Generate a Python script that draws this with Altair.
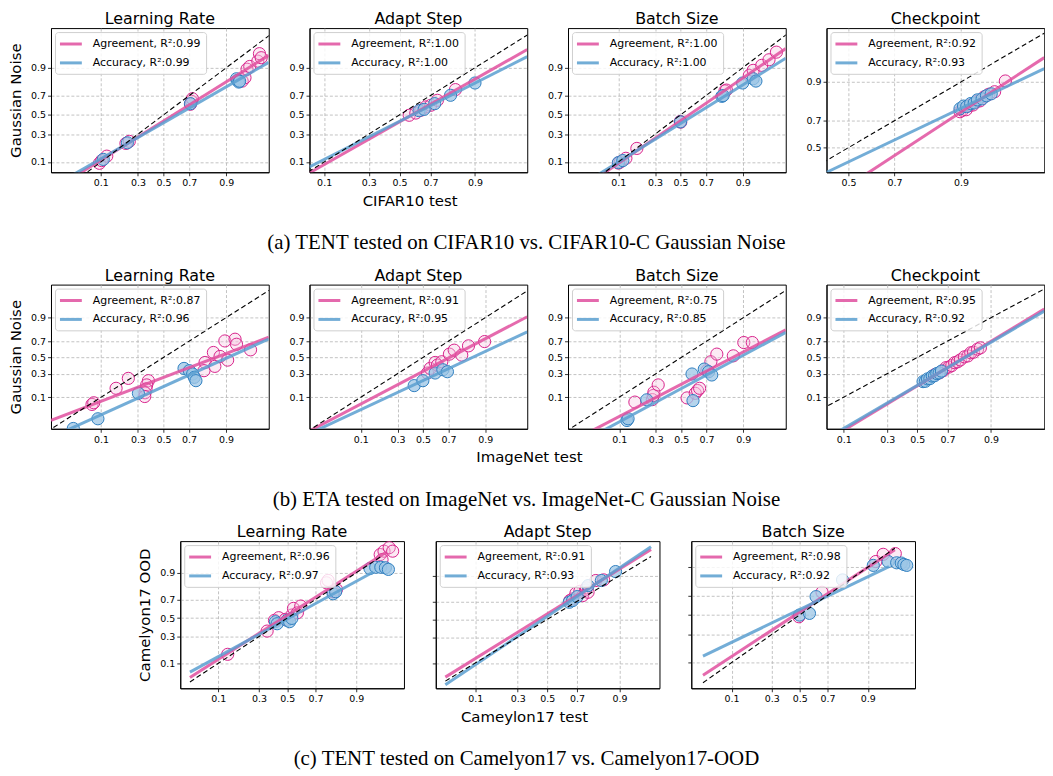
import altair as alt
import pandas as pd
from statistics import NormalDist

_nd = NormalDist()


def probit(p):
    return _nd.inv_cdf(p)


FONT = "DejaVu Sans"
SERIF = "Liberation Serif"
PINK = "#e0509f"
BLUE = "#5a9fd0"
PINK_EDGE = "#d8248c"
BLUE_EDGE = "#2f7fbf"
BLUE_FILL = "#9cc6e5"
PINK_FILL = "#f5c4df"

TICK_PROBS = [0.1, 0.3, 0.5, 0.7, 0.9]
LEXPR = ("datum.value < -0.9 ? '0.1' : datum.value < -0.26 ? '0.3' : "
         "datum.value < 0.26 ? '0.5' : datum.value < 0.9 ? '0.7' : '0.9'")

# ---------------- (a) TENT on CIFAR10 ----------------
A_TITLES = ["Learning Rate", "Adapt Step", "Batch Size", "Checkpoint"]
A_R2 = [("0.99", "0.99"), ("1.00", "1.00"), ("1.00", "1.00"), ("0.92", "0.93")]

A1_AGR_X = [0.095, 0.103, 0.123, 0.221, 0.242, 0.709, 0.716, 0.722, 0.946, 0.952, 0.956, 0.961, 0.973, 0.975, 0.977]
A1_AGR_Y = [0.094, 0.107, 0.131, 0.219, 0.236, 0.614, 0.644, 0.670, 0.821, 0.844, 0.893, 0.906, 0.928, 0.952, 0.940]
A1_ACC_X = [0.109, 0.230, 0.709, 0.932, 0.935, 0.938, 0.940]
A1_ACC_Y = [0.113, 0.224, 0.620, 0.837, 0.826, 0.814, 0.820]

A2_AGR_X = [0.565, 0.609, 0.641, 0.672, 0.702, 0.740, 0.829]
A2_AGR_Y = [0.496, 0.520, 0.550, 0.586, 0.603, 0.654, 0.754]
A2_ACC_X = [0.630, 0.662, 0.725, 0.807, 0.900]
A2_ACC_Y = [0.545, 0.560, 0.620, 0.703, 0.807]

A3_AGR_X = [0.100, 0.107, 0.130, 0.184, 0.498, 0.502, 0.820, 0.828, 0.922, 0.933, 0.953, 0.966, 0.976]
A3_AGR_Y = [0.095, 0.100, 0.119, 0.181, 0.428, 0.422, 0.742, 0.750, 0.858, 0.887, 0.911, 0.933, 0.956]
A3_ACC_X = [0.100, 0.117, 0.500, 0.803, 0.810, 0.900, 0.933, 0.940]
A3_ACC_Y = [0.097, 0.107, 0.425, 0.693, 0.700, 0.807, 0.837, 0.821]

A4_AGR_X = [0.898, 0.903, 0.910, 0.916, 0.922, 0.928, 0.933, 0.939, 0.945, 0.952, 0.963]
A4_AGR_Y = [0.758, 0.767, 0.770, 0.794, 0.797, 0.816, 0.819, 0.839, 0.851, 0.862, 0.903]
A4_ACC_X = [0.898, 0.905, 0.911, 0.918, 0.924, 0.929, 0.936, 0.942, 0.948]
A4_ACC_Y = [0.776, 0.791, 0.788, 0.805, 0.808, 0.824, 0.829, 0.844, 0.853]

# ---------------- (b) ETA on ImageNet ----------------
B_TITLES = ["Learning Rate", "Adapt Step", "Batch Size", "Checkpoint"]
B_R2 = [("0.87", "0.96"), ("0.91", "0.95"), ("0.75", "0.85"), ("0.95", "0.92")]

B1_AGR_X = [0.071, 0.076, 0.165, 0.235, 0.378, 0.365, 0.360, 0.352, 0.350, 0.803, 0.797, 0.854, 0.847, 0.877, 0.896, 0.906, 0.929, 0.933, 0.963]
B1_AGR_Y = [0.065, 0.072, 0.160, 0.250, 0.227, 0.188, 0.155, 0.127, 0.104, 0.436, 0.335, 0.387, 0.564, 0.513, 0.703, 0.466, 0.722, 0.665, 0.597]
B1_ACC_X = [0.032, 0.089, 0.303, 0.663, 0.702, 0.725, 0.736, 0.747]
B1_ACC_Y = [0.011, 0.024, 0.124, 0.362, 0.335, 0.297, 0.261, 0.227]

B2_AGR_X = [0.537, 0.559, 0.599, 0.617, 0.651, 0.707, 0.740, 0.788, 0.826, 0.898]
B2_AGR_Y = [0.308, 0.362, 0.436, 0.403, 0.445, 0.543, 0.593, 0.530, 0.646, 0.696]
B2_ACC_X = [0.428, 0.499, 0.599, 0.659, 0.693]
B2_ACC_Y = [0.182, 0.227, 0.308, 0.346, 0.323]

B3_AGR_X = [0.169, 0.275, 0.282, 0.286, 0.317, 0.548, 0.614, 0.632, 0.648, 0.702, 0.730, 0.769, 0.859, 0.902, 0.929]
B3_AGR_Y = [0.075, 0.087, 0.110, 0.131, 0.188, 0.096, 0.124, 0.143, 0.160, 0.335, 0.445, 0.543, 0.521, 0.685, 0.685]
B3_ACC_X = [0.131, 0.136, 0.238, 0.588, 0.596, 0.683, 0.714, 0.736]
B3_ACC_Y = [0.021, 0.024, 0.086, 0.297, 0.082, 0.354, 0.323, 0.286]

B4_AGR_X = [0.620, 0.650, 0.674, 0.691, 0.709, 0.726, 0.742, 0.758, 0.773, 0.794, 0.811, 0.824, 0.836, 0.853, 0.864]
B4_AGR_Y = [0.290, 0.310, 0.334, 0.371, 0.378, 0.397, 0.433, 0.444, 0.468, 0.508, 0.520, 0.560, 0.567, 0.606, 0.622]
B4_ACC_X = [0.540, 0.556, 0.571, 0.587, 0.603, 0.618, 0.633, 0.648, 0.663]
B4_ACC_Y = [0.218, 0.221, 0.245, 0.248, 0.274, 0.278, 0.302, 0.309, 0.330]

# ---------------- (c) TENT on Camelyon17 ----------------
C_TITLES = ["Learning Rate", "Adapt Step", "Batch Size"]
C_R2 = [("0.96", "0.97"), ("0.91", "0.93"), ("0.98", "0.92")]

C1_AGR_X = [0.134, 0.354, 0.406, 0.437, 0.485, 0.534, 0.546, 0.575, 0.599, 0.767, 0.776, 0.803, 0.820, 0.958, 0.964, 0.971, 0.975, 0.961]
C1_AGR_Y = [0.152, 0.356, 0.474, 0.504, 0.485, 0.534, 0.608, 0.560, 0.633, 0.841, 0.857, 0.772, 0.791, 0.964, 0.971, 0.977, 0.971, 0.951]
C1_ACC_X = [0.413, 0.425, 0.498, 0.517, 0.534, 0.803, 0.816, 0.938, 0.950, 0.959, 0.966, 0.970]
C1_ACC_Y = [0.459, 0.436, 0.474, 0.459, 0.496, 0.754, 0.772, 0.920, 0.925, 0.925, 0.923, 0.916]

C2_AGR_X = [0.655, 0.673, 0.694, 0.718, 0.734, 0.752, 0.756, 0.765, 0.805, 0.841]
C2_AGR_Y = [0.708, 0.725, 0.777, 0.794, 0.756, 0.805, 0.821, 0.786, 0.872, 0.876]
C2_ACC_X = [0.651, 0.673, 0.702, 0.765, 0.831, 0.887]
C2_ACC_Y = [0.691, 0.708, 0.747, 0.838, 0.872, 0.919]

C3_AGR_X = [0.494, 0.663, 0.924, 0.942, 0.964]
C3_AGR_Y = [0.480, 0.728, 0.924, 0.948, 0.950]
C3_ACC_X = [0.499, 0.573, 0.621, 0.790, 0.917, 0.952, 0.966, 0.972, 0.975, 0.978]
C3_ACC_Y = [0.498, 0.516, 0.688, 0.826, 0.908, 0.924, 0.919, 0.918, 0.912, 0.908]

# axis limits of each panel, in probit units
A_XDOM = [(-2.30, 2.15), (-1.53, 2.17), (-2.32, 2.17), (-0.25, 2.23)]
A_YDOM = [(-1.56, 2.36), (-1.56, 2.36), (-1.56, 2.36), (-0.48, 2.33)]
B_XDOM = [(-2.31, 2.16), (-2.34, 2.15), (-2.34, 2.16), (-1.58, 2.21)]
B_YDOM = [(-2.30, 2.35)] * 4
C_XDOM = [(-1.99, 2.17), (-1.98, 1.99), (-2.04, 2.17)]
C_YDOM = [(-1.99, 2.18), (-2.02, 2.29), (-1.97, 1.98)]
# x-extent of the fitted lines / y=x line in (c): (agreement, accuracy, diagonal)
C_EXT = [((-1.81, 1.83), (-1.81, 1.60), (-1.81, 1.77)),
         ((-1.81, 1.84), (-1.81, 1.84), (-1.81, 1.84)),
         ((-1.82, 1.79), (-1.82, 1.68), (-1.82, 1.79))]


def panel(name, agr_x, agr_y, acc_x, acc_y, r2, xdom, ydom, w, h,
          ytitle=None, ylabels=True, ext=None):
    la = f"Agreement, R\u00b2:{r2[0]}"
    lb = f"Accuracy, R\u00b2:{r2[1]}"
    pts = pd.DataFrame({
        "x": [probit(v) for v in agr_x + acc_x],
        "y": [probit(v) for v in agr_y + acc_y],
        "label": [la] * len(agr_x) + [lb] * len(acc_x),
    })
    xv = [probit(t) for t in TICK_PROBS if xdom[0] < probit(t) < xdom[1]]
    yv = [probit(t) for t in TICK_PROBS if ydom[0] < probit(t) < ydom[1]]
    X = alt.X("x:Q", scale=alt.Scale(domain=list(xdom), nice=False, zero=False),
              axis=alt.Axis(values=xv, labelExpr=LEXPR, title=None))
    yaxis = dict(values=yv, labelExpr=LEXPR, labels=ylabels)
    yaxis["title"] = ytitle if ytitle else None
    Y = alt.Y("y:Q", scale=alt.Scale(domain=list(ydom), nice=False, zero=False),
              axis=alt.Axis(**yaxis))
    legend = alt.Legend(orient="top-left", title=None, offset=4, padding=5,
                        fillColor="rgba(255,255,255,0.82)", strokeColor="#cfcfcf",
                        cornerRadius=3, symbolType="M-2,0L2,0", symbolStrokeWidth=3,
                        symbolSize=121, symbolOffset=4, symbolOpacity=0.85,
                        labelFont=FONT, labelFontSize=11, labelColor="black",
                        labelLimit=400, labelOffset=15, rowPadding=6)
    color = alt.Color("label:N", scale=alt.Scale(domain=[la, lb], range=[PINK, BLUE]),
                      legend=legend)
    if ext is None:
        ext = (xdom, xdom, (-3.5, 3.5))
    base = alt.Chart(pts)
    agr_pts = base.transform_filter(alt.datum.label == la).mark_circle(
        size=150, fill=PINK_FILL, fillOpacity=0.35, stroke=PINK_EDGE,
        strokeWidth=1, opacity=1, clip=True).encode(x=X, y=Y)
    acc_pts = base.transform_filter(alt.datum.label == lb).mark_circle(
        size=150, fill=BLUE_FILL, fillOpacity=0.75, stroke=BLUE_EDGE,
        strokeWidth=1, opacity=1, clip=True).encode(x=X, y=Y)
    agr_line = base.transform_filter(alt.datum.label == la).transform_regression(
        "x", "y", groupby=["label"], extent=list(ext[0])).mark_line(
        strokeWidth=3, opacity=0.85, clip=True).encode(x=X, y=Y, color=color)
    acc_line = base.transform_filter(alt.datum.label == lb).transform_regression(
        "x", "y", groupby=["label"], extent=list(ext[1])).mark_line(
        strokeWidth=3, opacity=0.85, clip=True).encode(x=X, y=Y, color=color)
    diag = alt.Chart(pd.DataFrame({"x": list(ext[2]), "y": list(ext[2])})).mark_line(
        color="black", strokeDash=[5, 3], strokeWidth=1.1, clip=True).encode(x=X, y=Y)
    return alt.layer(agr_pts, acc_pts, agr_line, acc_line, diag).properties(
        width=w, height=h,
        title=alt.Title(name, font=FONT, fontSize=16, fontWeight="normal",
                        color="black", offset=1))


def row(panels, spacing, xlabel, dx, caption):
    r = alt.hconcat(*panels, spacing=spacing,
                    title=alt.Title(xlabel, orient="bottom", anchor="middle", dx=dx,
                                    offset=6, font=FONT, fontSize=15,
                                    fontWeight="normal", color="black"))
    r = r.resolve_scale(color="independent").resolve_legend(color="independent")
    b = alt.vconcat(r, title=alt.Title(caption, orient="bottom", anchor="middle",
                                       offset=24, font=SERIF, fontSize=21,
                                       fontWeight="normal", color="black"))
    return b.resolve_scale(color="independent").resolve_legend(color="independent")


A_DATA = [(A1_AGR_X, A1_AGR_Y, A1_ACC_X, A1_ACC_Y), (A2_AGR_X, A2_AGR_Y, A2_ACC_X, A2_ACC_Y),
          (A3_AGR_X, A3_AGR_Y, A3_ACC_X, A3_ACC_Y), (A4_AGR_X, A4_AGR_Y, A4_ACC_X, A4_ACC_Y)]
B_DATA = [(B1_AGR_X, B1_AGR_Y, B1_ACC_X, B1_ACC_Y), (B2_AGR_X, B2_AGR_Y, B2_ACC_X, B2_ACC_Y),
          (B3_AGR_X, B3_AGR_Y, B3_ACC_X, B3_ACC_Y), (B4_AGR_X, B4_AGR_Y, B4_ACC_X, B4_ACC_Y)]
C_DATA = [(C1_AGR_X, C1_AGR_Y, C1_ACC_X, C1_ACC_Y), (C2_AGR_X, C2_AGR_Y, C2_ACC_X, C2_ACC_Y),
          (C3_AGR_X, C3_AGR_Y, C3_ACC_X, C3_ACC_Y)]

pa = [panel(A_TITLES[i], *A_DATA[i], A_R2[i], A_XDOM[i], A_YDOM[i], 219, 145,
            ytitle="Gaussian Noise" if i == 0 else None) for i in range(4)]
pb = [panel(B_TITLES[i], *B_DATA[i], B_R2[i], B_XDOM[i], B_YDOM[i], 219, 145,
            ytitle="Gaussian Noise" if i == 0 else None) for i in range(4)]
pc = [panel(C_TITLES[i], *C_DATA[i], C_R2[i], C_XDOM[i], C_YDOM[i], 225, 148,
            ytitle="Camelyon17 OOD" if i == 0 else None, ylabels=(i == 0),
            ext=C_EXT[i]) for i in range(3)]

block_a = row(pa, 18, "CIFAR10 test", -117,
              "(a) TENT tested on CIFAR10 vs. CIFAR10-C Gaussian Noise")
block_b = row(pb, 18, "ImageNet test", 3,
              "(b) ETA tested on ImageNet vs. ImageNet-C Gaussian Noise")
block_c = row(pc, 26, "Cameylon17 test", -2,
              "(c) TENT tested on Camelyon17 vs. Camelyon17-OOD")

chart = alt.vconcat(block_a, block_b, block_c, spacing=13, center=True)
chart = chart.resolve_scale(color="independent").resolve_legend(color="independent")
chart = chart.properties(padding=0).configure_view(
    stroke="black", strokeWidth=1).configure_axis(
    labelFont=FONT, labelFontSize=9.5, labelColor="black", labelPadding=2,
    tickColor="black", tickSize=3.5, tickWidth=0.8, domainColor="black",
    domainWidth=1, grid=True, gridColor="#b3b3b3", gridDash=[3, 2], gridWidth=0.8,
    titleFont=FONT, titleFontSize=15, titleFontWeight="normal", titleColor="black",
    titlePadding=7)

chart.save("out.html", embed_options={"renderer": "svg", "actions": False})
